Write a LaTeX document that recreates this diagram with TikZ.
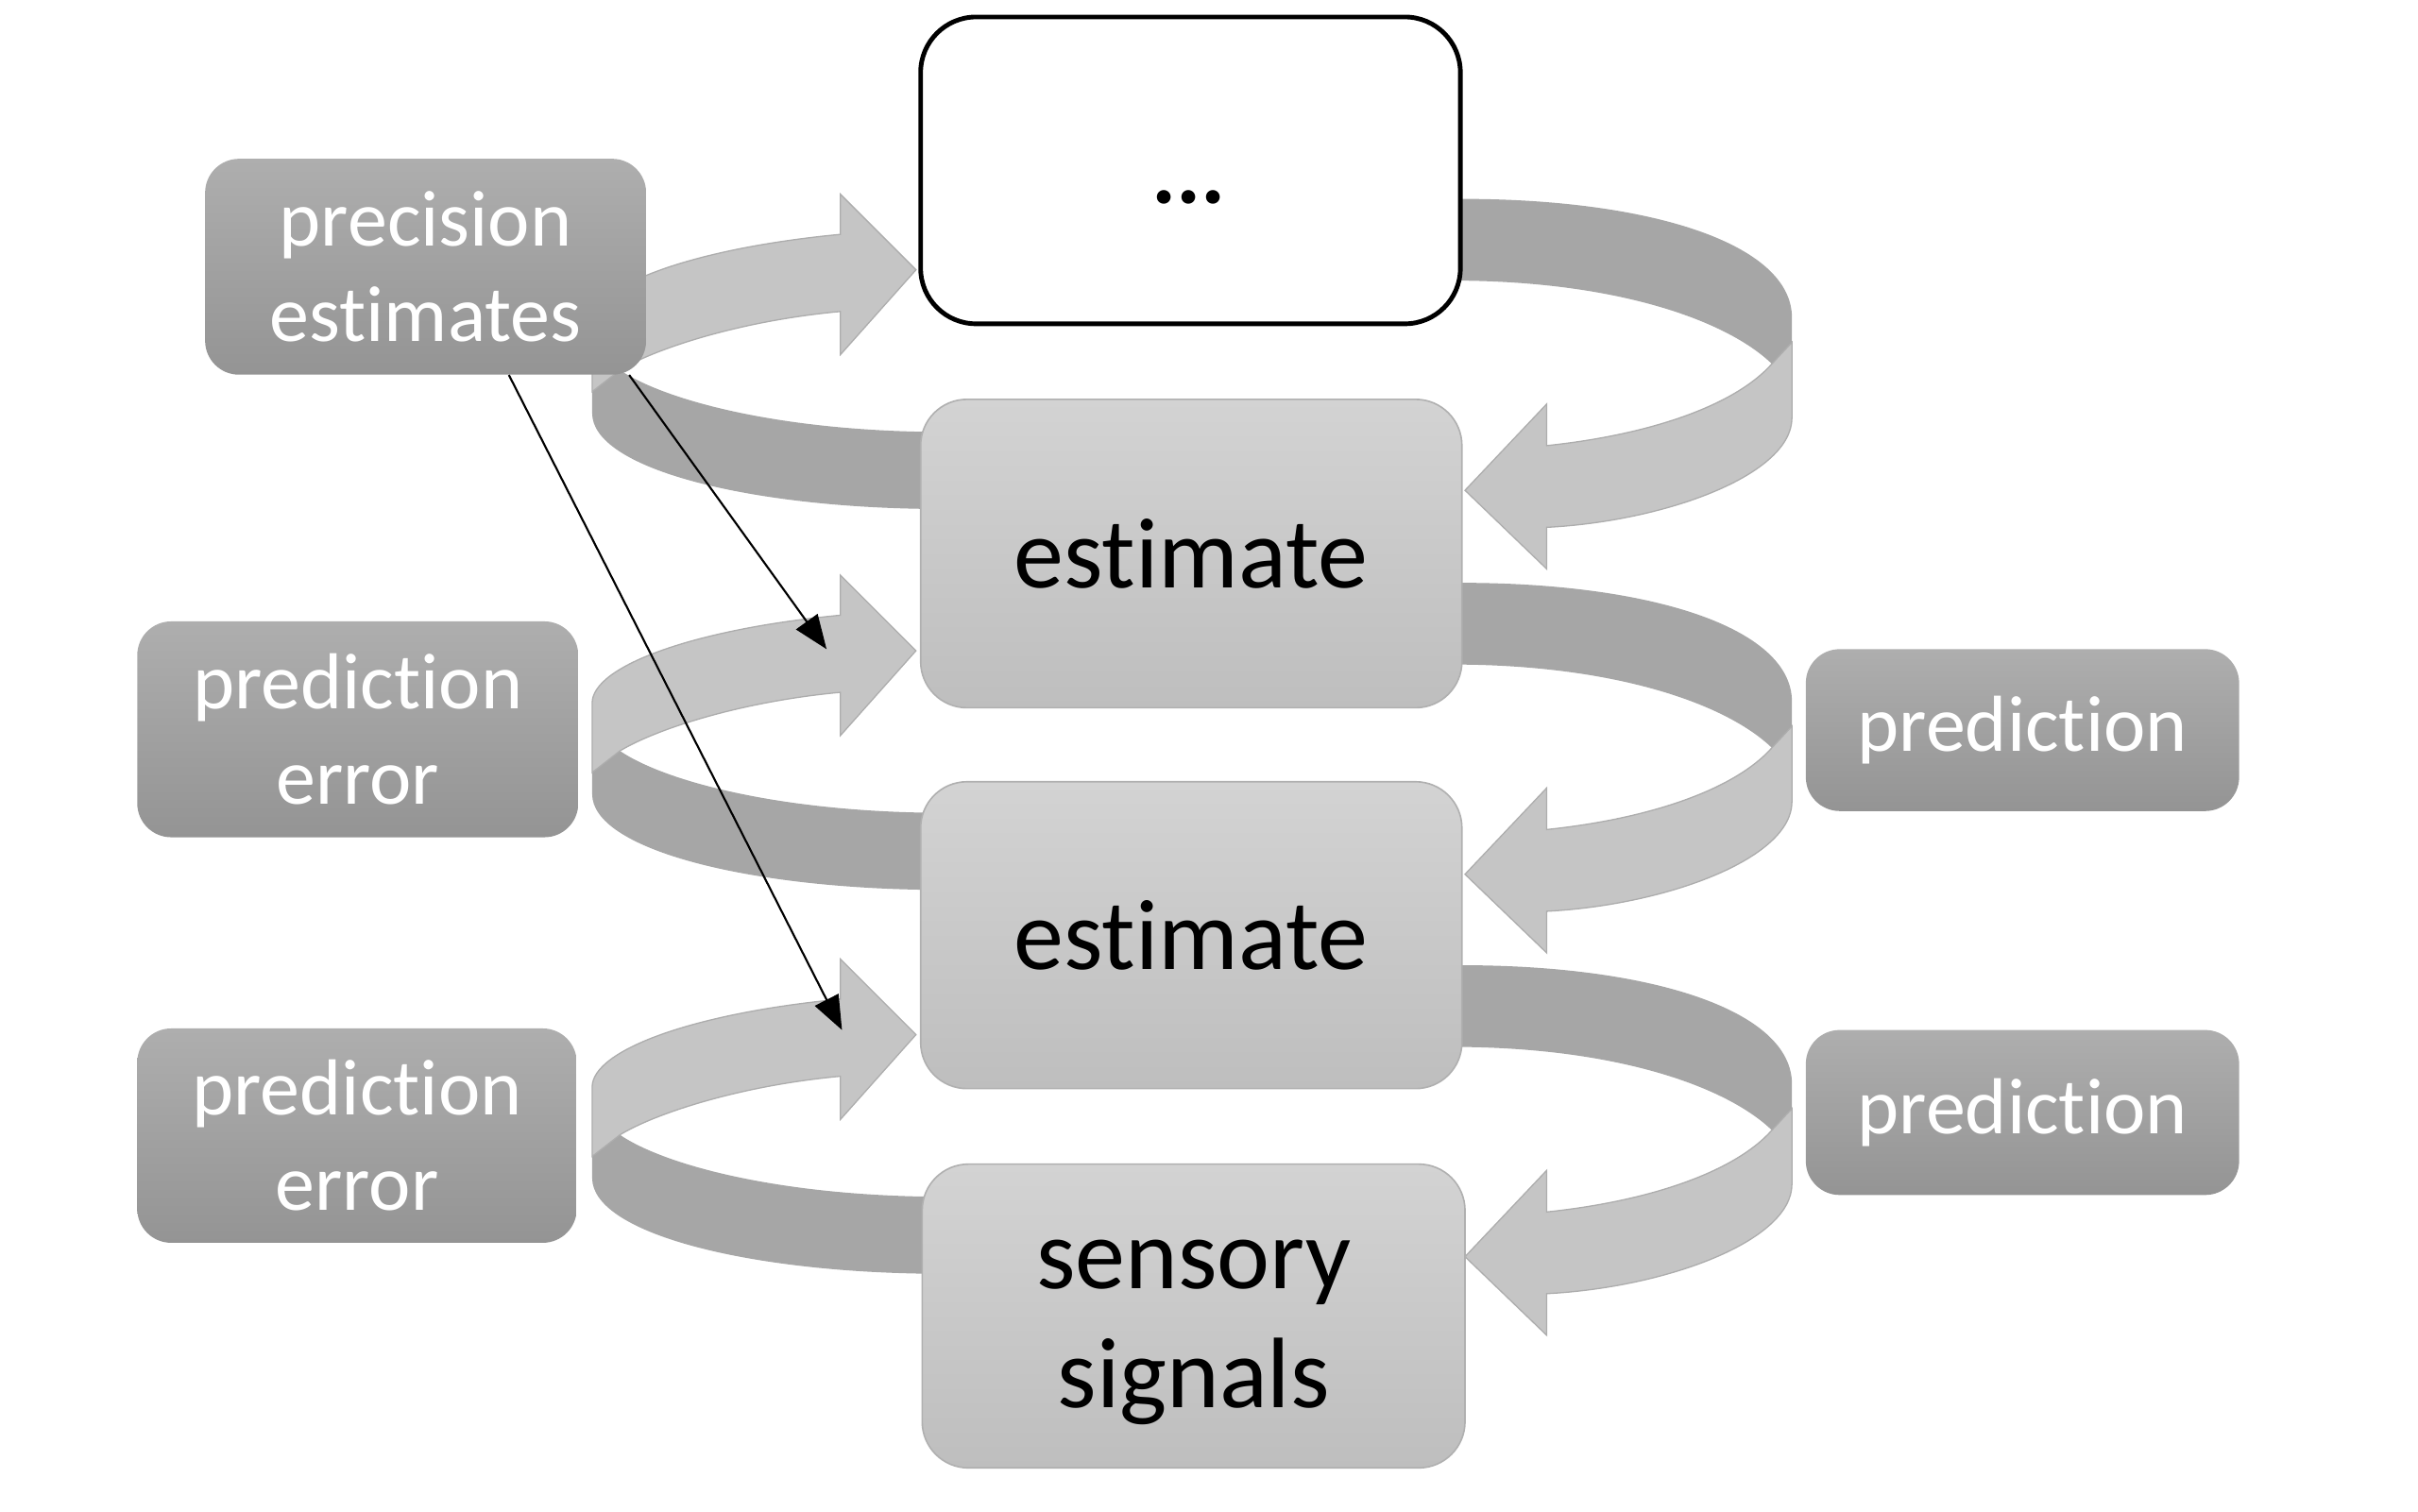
\documentclass[tikz,border=0pt]{standalone}
\usepackage{fontspec}
\setmainfont{Carlito}[RawFeature={-liga;-clig;-dlig}]
\usetikzlibrary{arrows.meta}
\definecolor{lightband}{HTML}{C5C5C5}
\definecolor{lightedge}{HTML}{ADADAD}
\definecolor{darkband}{HTML}{A6A6A6}
\definecolor{esttop}{HTML}{D3D3D3}
\definecolor{estbot}{HTML}{BEBEBE}
\definecolor{estborder}{HTML}{B0B0B0}
\definecolor{lbltop}{HTML}{AEAEAE}
\definecolor{lblbot}{HTML}{949494}
\begin{document}
\begin{tikzpicture}[x=1pt,y=-1pt,
  estbox/.style={draw=estborder, line width=1pt, rounded corners=30pt,
    top color=esttop, bottom color=estbot, inner sep=0pt, align=center,
    minimum width=351pt, font=\fontsize{65}{77}\selectfont},
  lblbox/.style={rounded corners=22pt, top color=lbltop, bottom color=lblbot,
    text=white, inner sep=0pt, align=center, font=\fontsize{51.5}{62}\selectfont},
  lightfill/.style={fill=lightband, draw=lightedge, line width=0.8pt, line join=miter},
  darkfill/.style={fill=darkband},
  blackarrow/.style={draw=black, line width=1.3pt, -{Triangle[length=22pt,width=17pt]}}
]
\useasboundingbox (0,0) rectangle (1568,980);

% ---- dark (back) parts of the loops ----
\foreach \T in {175,422,671}{
  \fill[darkfill] (384,\T+79) -- (384,\T+93) .. controls (384,\T+128) and (480,\T+153) .. (597,\T+155)
     -- (612,\T+155) -- (612,\T+105) -- (597,\T+105)
     .. controls (500,\T+103) and (430,\T+84) .. (402,\T+65) -- cycle;
}
\foreach \R in {318,567,815}{
  \fill[darkfill] (930,\R-189) -- (948,\R-189) .. controls (1070,\R-189) and (1162,\R-160) .. (1162,\R-112)
     -- (1162,\R-96) -- (1149,\R-82) .. controls (1120,\R-110) and (1050,\R-135) .. (948,\R-136)
     -- (930,\R-136) -- cycle;
}
% ---- light (front) parts with arrow heads ----
\foreach \T in {175,422,671}{
  \path[lightfill] (594,\T) -- (545,\T+55) -- (545,\T+27)
     .. controls (480,\T+33) and (425,\T+51) .. (402,\T+65) -- (384,\T+79) -- (384,\T+34)
     .. controls (384,\T+10) and (450,\T-14) .. (545,\T-23) -- (545,\T-49) -- cycle;
}
\foreach \R in {318,567,815}{
  \path[lightfill] (950,\R) -- (1003,\R-56) -- (1003,\R-29)
     .. controls (1070,\R-36) and (1125,\R-55) .. (1149,\R-82) -- (1162,\R-96) -- (1162,\R-47)
     .. controls (1162,\R-10) and (1080,\R+20) .. (1003,\R+24) -- (1003,\R+51) -- cycle;
}

% ---- boxes ----
\node[draw=black, line width=3pt, fill=white, rounded corners=36pt, inner sep=0pt,
      minimum width=350pt, minimum height=199pt] (top) at (772,110.5) {};
\node[font=\fontsize{60}{72}\selectfont\bfseries, inner sep=0pt] (dots) at (771,128) {...};
\node[estbox, minimum height=200pt] (est1) at (772.5,359) {estimate};
\node[estbox, minimum height=199pt] (est2) at (772.5,606.5) {estimate};
\node[estbox, minimum width=352pt, minimum height=197pt] (sens) at (774,853.5) {};
\node[font=\fontsize{65}{77}\selectfont, align=center, inner sep=0pt] (senstxt) at (774,864) {sensory\\signals};

\node[lblbox, minimum width=286pt, minimum height=140pt] (prec) at (276,173) {precision\\estimates};
\node[lblbox, minimum width=286pt, minimum height=140pt] (pe1) at (232,473) {prediction\\error};
\node[lblbox, minimum width=285pt, minimum height=139pt] (pe2) at (231.5,736.5) {prediction\\error};
\node[lblbox, minimum width=281pt, minimum height=105pt] (pr1) at (1311.5,473.5) {prediction};
\node[lblbox, minimum width=281pt, minimum height=107pt] (pr2) at (1311.5,721.5) {prediction};

% ---- precision arrows ----
\coordinate (t1) at (536,421);
\coordinate (t2) at (546,668);
\draw[blackarrow] ([xshift=132pt]prec.south) -- (t1);
\draw[blackarrow] ([xshift=54pt]prec.south) -- (t2);
\end{tikzpicture}
\end{document}
